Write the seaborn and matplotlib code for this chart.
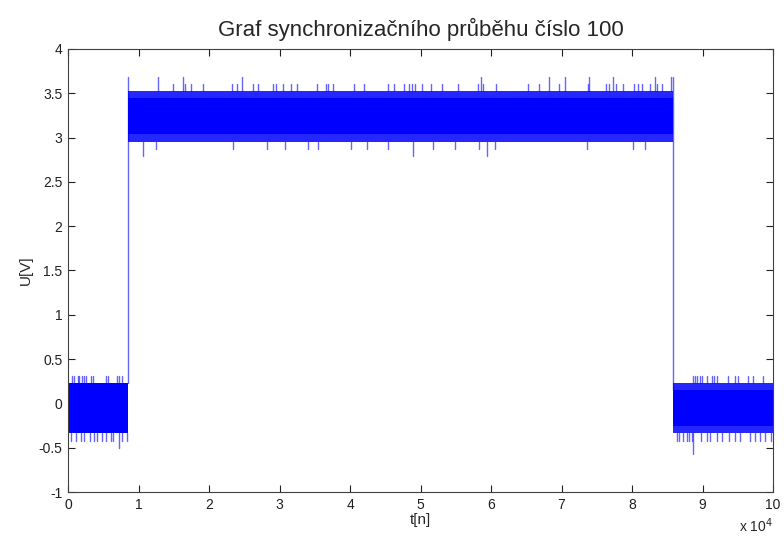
import numpy as np
import pandas as pd
import matplotlib
matplotlib.use("Agg")
import matplotlib.pyplot as plt
import seaborn as sns

# Signal segments: low level, high level, low level
seg_start = [0, 8560, 85860]
seg_end = [8560, 85860, 100000]
core_lo = [-0.338, 3.037, -0.250]
core_hi = [0.227, 3.443, 0.151]
fringe_lo = [-0.338, 2.954, -0.338]
fringe_hi = [0.227, 3.526, 0.227]

# Edges of the pulse
edge_t = [8560, 85860]
edge_lo = [0.227, 0.151]
edge_hi = [3.687, 3.687]

# Upward noise peaks
up_t = [610, 900, 1370, 1610, 1940, 2220, 2500, 3220, 3500, 5340, 5630, 6900, 7230, 7610,
        12720, 16270, 24720, 14940, 16640, 17400, 19190, 23220, 23930, 26290, 26900, 29030,
        29570, 30450, 31630, 32440,
        58530, 35270, 36550, 36930, 37640, 40610, 42030, 45340, 46290, 47700, 48370, 48840,
        49220, 50260, 51490, 53010, 55270, 58200, 58910,
        68180, 70500, 73940, 77260, 83260, 85480, 60670, 65290, 66810, 69650, 73710, 76310,
        76780, 77730, 78680, 80280, 80810, 81460, 82550, 83500, 84210,
        88700, 88940, 89270, 89650, 89880, 90590, 91300, 91630, 92100, 93660, 94610, 95080,
        96500, 97210, 98630]
up_v = [0.31] * 14 + [3.687] * 3 + [3.605] * 13 + [3.687] + [3.605] * 18 + [3.687] * 6 + [3.605] * 15 + [0.31] * 15

# Downward noise peaks
dn_t = [430, 1130, 1800, 2320, 3120, 3690, 4070, 4770, 5340, 6050, 6430, 7610, 8410, 7280,
        12480, 23450, 28270, 30780, 10690,
        34090, 35500, 40140, 42360, 45340, 51820, 54890, 58300, 48890, 59390,
        60570, 73570, 80100, 81840,
        86340, 86710, 87190, 87760, 88130, 88470, 89740, 90590, 91060, 92100, 92720, 93800,
        94610, 95320, 96740, 97450, 98160, 98870, 99670, 88700]
dn_v = ([-0.42] * 13 + [-0.50] + [2.871] * 4 + [2.79] + [2.871] * 8 + [2.79] * 2 +
        [2.871] * 4 + [-0.42] * 19 + [-0.575])

x_ticks = list(range(0, 100001, 10000))
x_labels = [str(i) for i in range(0, 11)]
y_ticks = [-1, -0.5, 0, 0.5, 1, 1.5, 2, 2.5, 3, 3.5, 4]
y_labels = ["-1", "-0.5", "0", "0.5", "1", "1.5", "2", "2.5", "3", "3.5", "4"]

BLUE = "#0000ff"

sns.set_style("white")
plt.rcParams["font.family"] = ["Liberation Sans", "DejaVu Sans"]

fig = plt.figure(figsize=(7.84, 5.40), dpi=100)
ax = fig.add_axes([68 / 784, 1 - 492 / 540, 705 / 784, 443 / 540])


def seg_index(t):
    for i, (a, b) in enumerate(zip(seg_start, seg_end)):
        if a <= t <= b:
            return i
    return len(seg_start) - 1


# Peak segments as long-form data, one unit per peak
rows = []
uid = 0
for t, v in zip(up_t, up_v):
    i = seg_index(t)
    rows.append((t, fringe_hi[i], uid))
    rows.append((t, v, uid))
    uid += 1
for t, v in zip(dn_t, dn_v):
    i = seg_index(t)
    rows.append((t, fringe_lo[i], uid))
    rows.append((t, v, uid))
    uid += 1
for t, lo, hi in zip(edge_t, edge_lo, edge_hi):
    rows.append((t, lo, uid))
    rows.append((t, hi, uid))
    uid += 1
peaks = pd.DataFrame(rows, columns=["t", "u", "unit"])

# Dense noise bands
for a, b, flo, fhi in zip(seg_start, seg_end, fringe_lo, fringe_hi):
    ax.fill_between([a, b], [flo, flo], [fhi, fhi], color=BLUE, alpha=0.85, lw=0)
for a, b, clo, chi in zip(seg_start, seg_end, core_lo, core_hi):
    ax.fill_between([a, b], [clo, clo], [chi, chi], color=BLUE, lw=0)

sns.lineplot(data=peaks, x="t", y="u", units="unit", estimator=None, sort=False,
             color=BLUE, lw=1.0, alpha=0.6, ax=ax, legend=False)

ax.set_xlim(0, 100000)
ax.set_ylim(-1, 4)
ax.set_xticks(x_ticks)
ax.set_xticklabels(x_labels)
ax.set_yticks(y_ticks)
ax.set_yticklabels(y_labels)
ax.tick_params(direction="in", length=5, width=0.8, colors="#202020", labelsize=10,
               top=True, right=True, bottom=True, left=True, pad=4)
for s in ax.spines.values():
    s.set_color("#404040")
    s.set_linewidth(0.8)

ax.set_xlabel("t[n]", fontsize=11, labelpad=1)
ax.set_ylabel("U[V]", fontsize=11, labelpad=4)
ax.set_title("Graf synchronizačního průběhu číslo 100", fontsize=16, pad=9)
ax.text(1.0, -0.075, r"x 10$^{4}$", transform=ax.transAxes, ha="right", va="center",
        fontsize=10)

fig.savefig("out.png", dpi=100)
